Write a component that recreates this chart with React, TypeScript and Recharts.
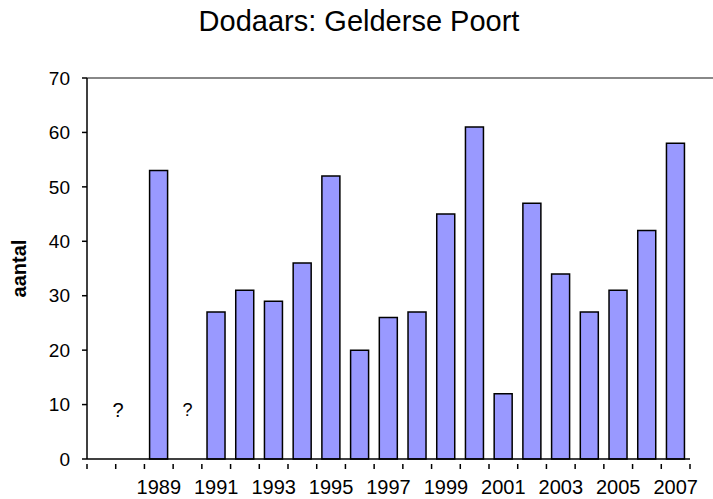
import { BarChart, Bar, XAxis, YAxis, ReferenceLine, ReferenceDot } from "recharts";

const years = [
  "1987", "1988", "1989", "1990", "1991", "1992", "1993", "1994", "1995", "1996", "1997",
  "1998", "1999", "2000", "2001", "2002", "2003", "2004", "2005", "2006", "2007",
];
const counts = [
  null, null, 53, null, 27, 31, 29, 36, 52, 20, 26,
  27, 45, 61, 12, 47, 34, 27, 31, 42, 58,
];
const unknownYears = ["1988", "1990"];
const labeledYears = ["1989", "1991", "1993", "1995", "1997", "1999", "2001", "2003", "2005", "2007"];
const yTicks = [0, 10, 20, 30, 40, 50, 60, 70];

const data = years.map((year, i) => ({ year, count: counts[i] }));

const FONT = "'Liberation Sans', Arial, sans-serif";
const W = 713;
const H = 499;
const M = { top: 78, right: 23, bottom: 0, left: 0 };
const Y_WIDTH = 87;

// tick marks sit between categories (Excel style), labels only on odd years
function YearTick(props: any) {
  const { x, y, payload, index } = props;
  const band = payload.offset ? payload.offset * 2 : (W - M.right - Y_WIDTH) / years.length;
  const left = x - band / 2;
  const last = index === years.length - 1;
  return (
    <g>
      <line x1={left} x2={left} y1={y - 16} y2={y - 11} stroke="#000" strokeWidth={1.5} />
      {last && <line x1={left + band} x2={left + band} y1={y - 16} y2={y - 11} stroke="#000" strokeWidth={1.5} />}
      {labeledYears.includes(payload.value) && (
        <text x={x} y={y} dy="0.71em" textAnchor="middle" fontSize={20} fontFamily={FONT} fill="#000">
          {payload.value}
        </text>
      )}
    </g>
  );
}

function Unknown(props: any) {
  const { cx, cy, first } = props;
  return (
    <text x={cx + (first ? -12 : 0)} y={cy} dy="0.35em" textAnchor="middle" fontSize={first ? 20 : 18} fontFamily={FONT} fill="#000">
      ?
    </text>
  );
}

export default function App() {
  return (
    <div style={{ position: "absolute", left: 0, top: 0, width: W, height: H, background: "#fff" }}>
      <div
        style={{
          position: "absolute", left: 0, top: 5, width: 718, textAlign: "center",
          fontFamily: FONT, fontSize: 29, color: "#000",
        }}
      >
        Dodaars: Gelderse Poort
      </div>
      <div style={{ position: "absolute", left: W - M.right, top: M.top - 1, width: M.right, height: 2, background: "#888" }} />
      <BarChart width={W} height={H} data={data} margin={M} barCategoryGap="18%">
        <XAxis
          dataKey="year"
          interval={0}
          height={40}
          tickLine={false}
          tickSize={5}
          tickMargin={16}
          tick={<YearTick />}
          axisLine={{ stroke: "#000", strokeWidth: 1.5 }}
        />
        <YAxis
          width={Y_WIDTH}
          domain={[0, 70]}
          ticks={yTicks}
          interval={0}
          tickSize={5}
          tickMargin={12}
          tick={{ fontSize: 19, fontFamily: FONT, fill: "#000" }}
          tickLine={{ stroke: "#000", strokeWidth: 1.5 }}
          axisLine={{ stroke: "#000", strokeWidth: 1.5 }}
          label={{
            value: "aantal", angle: -90, position: "insideLeft", offset: 19,
            style: { fontSize: 20, fontWeight: "bold", fontFamily: FONT, fill: "#000", textAnchor: "middle" },
          }}
        />
        <ReferenceLine y={70} stroke="#888" strokeWidth={2} />
        <Bar dataKey="count" fill="#9999FF" stroke="#000" strokeWidth={1.5} isAnimationActive={false} />
        {unknownYears.map((yr, i) => (
          <ReferenceDot key={yr} x={yr} y={9} r={0} shape={(p: any) => <Unknown {...p} first={i === 0} />} />
        ))}
      </BarChart>
    </div>
  );
}
